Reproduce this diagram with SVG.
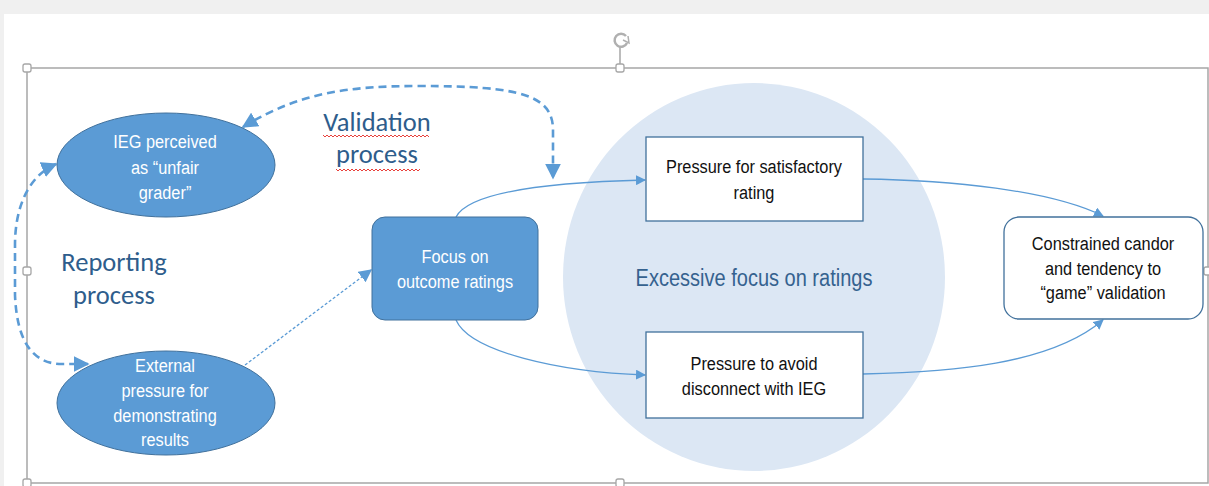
<svg xmlns="http://www.w3.org/2000/svg" width="1209" height="486" viewBox="0 0 1209 486">
<style>
.ell{fill:#5b9bd5;stroke:#41719c;stroke-width:1}
.box{fill:#ffffff;stroke:#41719c;stroke-width:1.3}
.wt{font-family:"Liberation Sans","Arial",sans-serif;font-size:19px;fill:#ffffff;text-anchor:middle}
.bt{font-family:"Liberation Sans","Arial",sans-serif;font-size:19px;fill:#111111;text-anchor:middle}
.hd{font-family:Carlito,Lato,"Open Sans",sans-serif;font-size:26.5px;fill:#2e5d8c;text-anchor:middle}
.con{fill:none;stroke:#5b9bd5;stroke-width:1.3}
.dash{fill:none;stroke:#5b9bd5;stroke-width:2.6;stroke-dasharray:8 5}
.dot{fill:none;stroke:#5b9bd5;stroke-width:1.3;stroke-dasharray:3 2}
.sq{fill:none;stroke:#e8413c;stroke-width:1}
.frm{fill:none;stroke:#a6a6a6;stroke-width:1.5}
.hdl{fill:#ffffff;stroke:#a6a6a6;stroke-width:1.3}
</style>
<defs>
<marker id="ah" viewBox="0 0 10 10" refX="9" refY="5" markerWidth="10" markerHeight="10" markerUnits="userSpaceOnUse" orient="auto">
<path d="M0,0 L10,5 L0,10 z" fill="#5b9bd5"/>
</marker>
<marker id="ahs" viewBox="0 0 10 10" refX="9" refY="5" markerWidth="13" markerHeight="13" markerUnits="userSpaceOnUse" orient="auto">
<path d="M0,0 L10,5 L0,10 z" fill="#5b9bd5"/>
</marker>
<marker id="ahd" viewBox="0 0 10 10" refX="9" refY="5" markerWidth="16" markerHeight="16" markerUnits="userSpaceOnUse" orient="auto-start-reverse">
<path d="M0,0 L10,5 L0,10 z" fill="#5b9bd5"/>
</marker>
</defs>
<rect x="0" y="0" width="1209" height="486" fill="#f0f0f0"/>
<rect x="4" y="14" width="1205" height="472" fill="#ffffff"/>

<g id="selection-frame">
<rect class="frm" x="27" y="68" width="1181" height="415"/>
<line class="frm" x1="620" y1="46" x2="620" y2="64"/>
<path d="M626,36 A6.5,6.5 0 1 0 627,43" fill="none" stroke="#b0b0b0" stroke-width="2.5"/>
<path d="M623,40 L629,43 L628,36" fill="none" stroke="#b0b0b0" stroke-width="1.5"/>
<rect class="hdl" x="23" y="64" width="8" height="8" rx="2"/>
<rect class="hdl" x="616" y="64" width="8" height="8" rx="2"/>
<rect class="hdl" x="23" y="267" width="8" height="8" rx="2"/>
<rect class="hdl" x="23" y="479" width="8" height="8" rx="2"/>
<rect class="hdl" x="616" y="479" width="8" height="8" rx="2"/>
<rect class="hdl" x="1204" y="267" width="8" height="8" rx="2"/>
</g>

<g id="circle-excessive">
<ellipse cx="754" cy="277" rx="191" ry="194" fill="#dce7f4"/>
<g transform="translate(754 0) scale(0.87 1)">
<text x="0" y="286" font-family="'Liberation Sans',Arial,sans-serif" font-size="23" fill="#35628f" text-anchor="middle">Excessive focus on ratings</text>
</g>
</g>

<g id="connectors">
<path class="con" d="M456,217 C470,190 560,182 645,180" marker-end="url(#ah)"/>
<path class="con" d="M456,320 C470,352 560,372 645,375" marker-end="url(#ah)"/>
<path class="con" d="M863,179 C950,180 1050,190 1103,216" marker-end="url(#ah)"/>
<path class="con" d="M863,374 C950,372 1050,365 1103,320" marker-end="url(#ah)"/>
<path class="dot" d="M245,365 L371,270" marker-end="url(#ahs)"/>
<path class="dash" d="M243,127 C300,92 350,86 420,86 C520,86 553,95 553,130 L553,178" marker-start="url(#ahd)" marker-end="url(#ahd)"/>
<path class="dash" d="M56,164 C30,175 15,205 15,245 L15,295 C17,345 35,364 62,364 L88,364" marker-start="url(#ahd)" marker-end="url(#ahd)"/>
</g>

<g id="label-validation">
<text class="hd" x="377" y="131">Validation</text>
<text class="hd" x="377" y="163">process</text>
<path class="sq" d="M323,135 l2,2 l2,-2 l2,2 l2,-2 l2,2 l2,-2 l2,2 l2,-2 l2,2 l2,-2 l2,2 l2,-2 l2,2 l2,-2 l2,2 l2,-2 l2,2 l2,-2 l2,2 l2,-2 l2,2 l2,-2 l2,2 l2,-2 l2,2 l2,-2 l2,2 l2,-2 l2,2 l2,-2 l2,2 l2,-2 l2,2 l2,-2 l2,2 l2,-2 l2,2 l2,-2 l2,2 l2,-2 l2,2 l2,-2 l2,2 l2,-2 l2,2 l2,-2 l2,2 l2,-2 l2,2 l2,-2 l2,2 l2,-2 l2,2"/>
<path class="sq" d="M336,169 l2,2 l2,-2 l2,2 l2,-2 l2,2 l2,-2 l2,2 l2,-2 l2,2 l2,-2 l2,2 l2,-2 l2,2 l2,-2 l2,2 l2,-2 l2,2 l2,-2 l2,2 l2,-2 l2,2 l2,-2 l2,2 l2,-2 l2,2 l2,-2 l2,2 l2,-2 l2,2 l2,-2 l2,2 l2,-2 l2,2 l2,-2 l2,2 l2,-2 l2,2 l2,-2 l2,2 l2,-2 l2,2 l2,-2"/>
</g>

<g id="label-reporting">
<text class="hd" x="114" y="271">Reporting</text>
<text class="hd" x="114" y="304">process</text>
</g>

<g id="node-ieg">
<ellipse class="ell" cx="166" cy="165" rx="109" ry="52"/>
<g transform="translate(165 0) scale(0.86 1)">
<text class="wt" x="0" y="148">IEG perceived</text>
<text class="wt" x="0" y="174">as “unfair</text>
<text class="wt" x="0" y="199">grader”</text>
</g>
</g>

<g id="node-external">
<ellipse class="ell" cx="166" cy="403" rx="109" ry="52"/>
<g transform="translate(165 0) scale(0.86 1)">
<text class="wt" x="0" y="372">External</text>
<text class="wt" x="0" y="397">pressure for</text>
<text class="wt" x="0" y="422">demonstrating</text>
<text class="wt" x="0" y="446">results</text>
</g>
</g>

<g id="node-focus">
<rect class="ell" x="372" y="217" width="166" height="103" rx="13"/>
<g transform="translate(455 0) scale(0.86 1)">
<text class="wt" x="0" y="263">Focus on</text>
<text class="wt" x="0" y="288">outcome ratings</text>
</g>
</g>

<g id="node-satisfactory">
<rect class="box" x="646" y="137" width="217" height="84"/>
<g transform="translate(754 0) scale(0.86 1)">
<text class="bt" x="0" y="173">Pressure for satisfactory</text>
<text class="bt" x="0" y="199">rating</text>
</g>
</g>

<g id="node-disconnect">
<rect class="box" x="646" y="332" width="217" height="86"/>
<g transform="translate(754 0) scale(0.86 1)">
<text class="bt" x="0" y="370">Pressure to avoid</text>
<text class="bt" x="0" y="395">disconnect with IEG</text>
</g>
</g>

<g id="node-constrained">
<rect class="box" x="1004" y="217" width="199" height="102" rx="15"/>
<g transform="translate(1103 0) scale(0.86 1)">
<text class="bt" x="0" y="250">Constrained candor</text>
<text class="bt" x="0" y="275">and tendency to</text>
<text class="bt" x="0" y="299">“game” validation</text>
</g>
</g>
</svg>
